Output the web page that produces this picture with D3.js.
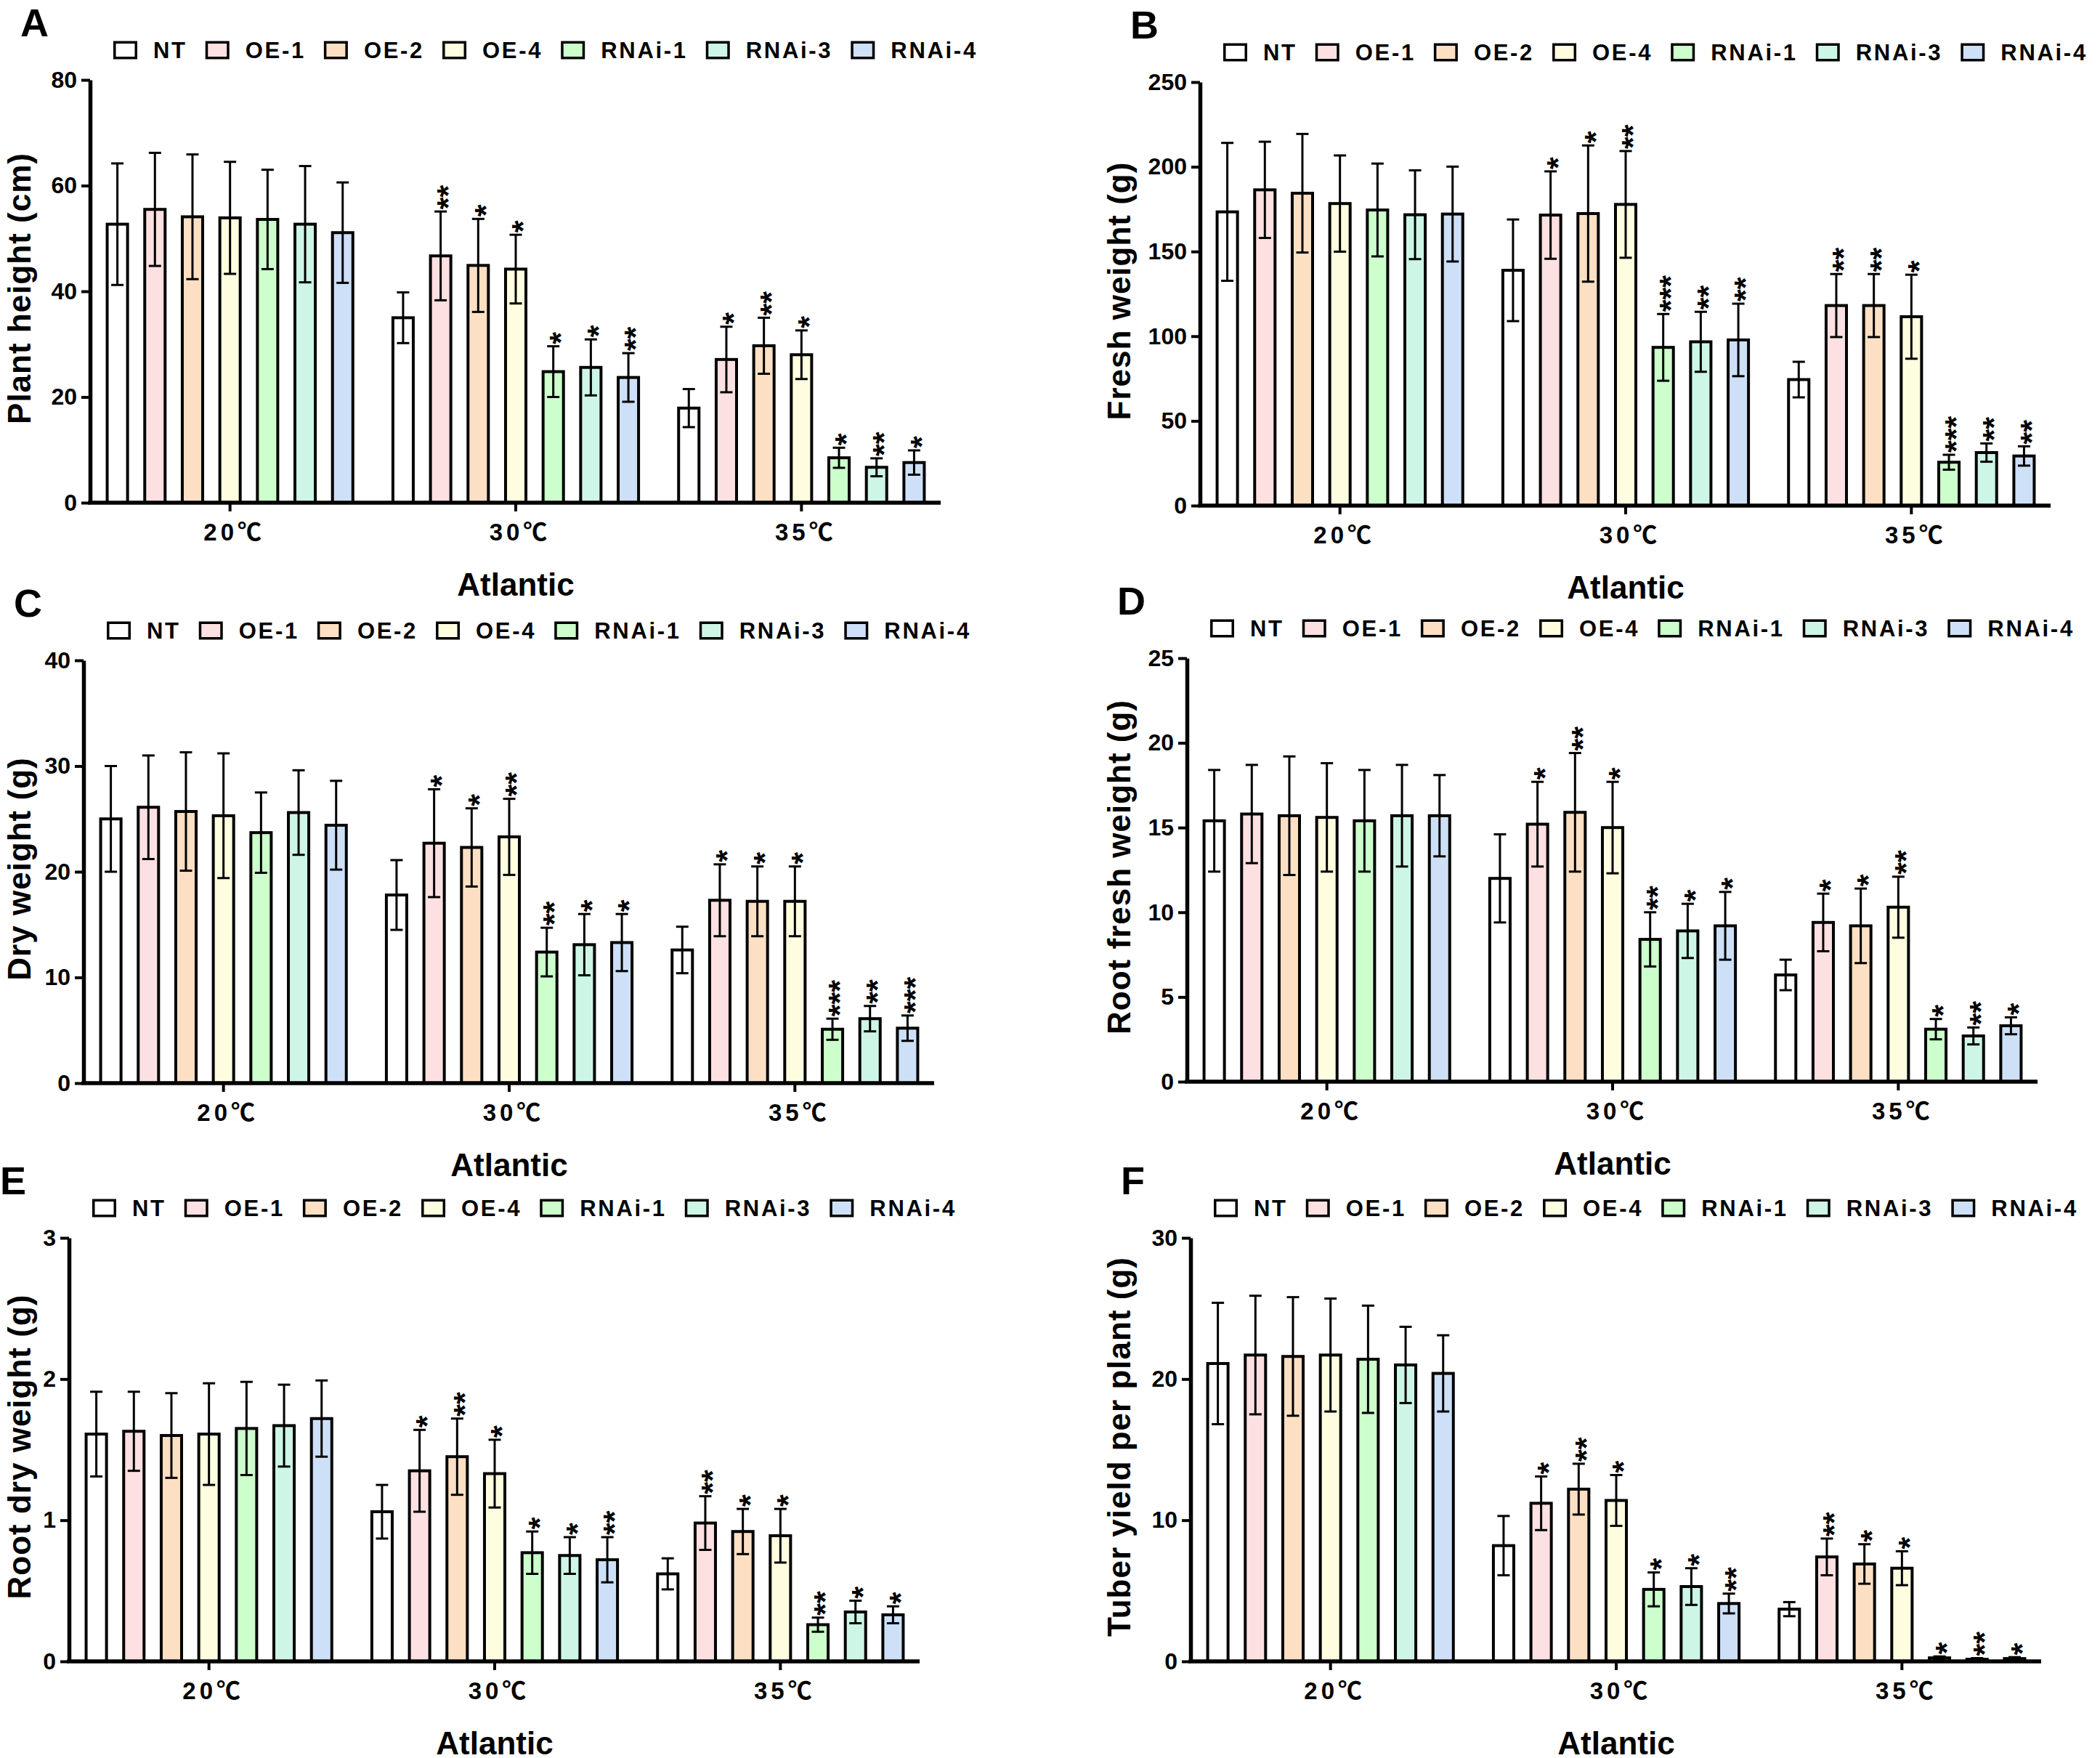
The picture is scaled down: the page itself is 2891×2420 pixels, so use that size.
<!DOCTYPE html>
<html>
<head>
<meta charset="utf-8">
<script src="https://cdn.jsdelivr.net/npm/d3@7"></script>
<style>
  body { margin: 0; background: #fff; }
  svg { display: block; font-family: "Liberation Sans", Arial, sans-serif; }
</style>
</head>
<body>
<svg id="fig" width="2891" height="2420"></svg>
<script>
// groups on the x axis and the seven lines
const categories = ["20℃", "30℃", "35℃"];
const series = ["NT", "OE-1", "OE-2", "OE-4", "RNAi-1", "RNAi-3", "RNAi-4"];
const seriesColors = ["#ffffff", "#fde0e1", "#fde0c4", "#fffde0", "#ccffcc", "#cdf6e6", "#cde0f7"];

// A - plant height (cm), rows = 20/30/35 ℃
const heightMean = [[52.7, 55.5, 54.1, 53.9, 53.6, 52.7, 51.1],
                    [35.0, 46.7, 44.9, 44.2, 24.8, 25.6, 23.7],
                    [17.9, 27.1, 29.7, 28.0, 8.5, 6.7, 7.6]];
const heightErr = [[11.5, 10.7, 11.8, 10.6, 9.4, 11.0, 9.5],
                   [4.8, 8.4, 8.8, 6.5, 4.8, 5.3, 4.6],
                   [3.6, 6.2, 5.3, 4.6, 1.9, 1.7, 2.3]];
const heightSig = [["", "", "", "", "", "", ""],
                   ["", "**", "*", "*", "*", "*", "**"],
                   ["", "*", "**", "*", "*", "**", "*"]];

// B - fresh weight (g)
const freshMean = [[173.4, 186.4, 184.4, 178.3, 174.5, 171.7, 172.1],
                   [138.9, 171.5, 172.4, 177.8, 93.4, 96.7, 97.8],
                   [74.4, 118.1, 118.1, 111.5, 25.6, 31.3, 29.3]];
const freshErr = [[40.7, 28.4, 35.0, 28.4, 27.4, 26.2, 28.0],
                  [30.0, 25.8, 40.2, 31.5, 19.7, 17.7, 21.4],
                  [10.5, 18.6, 18.6, 24.8, 4.4, 5.4, 5.7]];
const freshSig = [["", "", "", "", "", "", ""],
                  ["", "*", "*", "**", "***", "**", "**"],
                  ["", "**", "**", "*", "***", "**", "**"]];

// C - dry weight (g)
const dryMean = [[25.0, 26.1, 25.7, 25.3, 23.7, 25.6, 24.4],
                 [17.8, 22.7, 22.3, 23.3, 12.4, 13.1, 13.3],
                 [12.6, 17.3, 17.2, 17.2, 5.1, 6.1, 5.2]];
const dryErr = [[5.0, 4.9, 5.6, 5.9, 3.8, 4.0, 4.2],
                [3.3, 5.1, 3.7, 3.6, 2.3, 2.9, 2.7],
                [2.2, 3.4, 3.3, 3.3, 1.0, 1.2, 1.2]];
const drySig = [["", "", "", "", "", "", ""],
                ["", "*", "*", "**", "**", "*", "*"],
                ["", "*", "*", "*", "***", "**", "***"]];

// D - root fresh weight (g)
const rootFreshMean = [[15.4, 15.8, 15.7, 15.6, 15.4, 15.7, 15.7],
                       [12.0, 15.2, 15.9, 15.0, 8.4, 8.9, 9.2],
                       [6.3, 9.4, 9.2, 10.3, 3.1, 2.7, 3.3]];
const rootFreshErr = [[3.0, 2.9, 3.5, 3.2, 3.0, 3.0, 2.4],
                      [2.6, 2.5, 3.5, 2.7, 1.6, 1.6, 2.0],
                      [0.9, 1.7, 2.2, 1.8, 0.6, 0.5, 0.5]];
const rootFreshSig = [["", "", "", "", "", "", ""],
                      ["", "*", "**", "*", "**", "*", "*"],
                      ["", "*", "*", "**", "*", "**", "*"]];

// E - root dry weight (g)
const rootDryMean = [[1.61, 1.63, 1.60, 1.61, 1.65, 1.67, 1.72],
                     [1.06, 1.35, 1.45, 1.33, 0.77, 0.75, 0.72],
                     [0.62, 0.98, 0.92, 0.89, 0.26, 0.35, 0.33]];
const rootDryErr = [[0.30, 0.28, 0.30, 0.36, 0.33, 0.29, 0.27],
                    [0.19, 0.29, 0.27, 0.24, 0.15, 0.13, 0.16],
                    [0.11, 0.19, 0.16, 0.19, 0.05, 0.08, 0.06]];
const rootDrySig = [["", "", "", "", "", "", ""],
                    ["", "*", "**", "*", "*", "*", "**"],
                    ["", "**", "*", "*", "**", "*", "*"]];

// F - tuber yield per plant (g)
const tuberMean = [[21.1, 21.7, 21.6, 21.7, 21.4, 21.0, 20.4],
                   [8.2, 11.2, 12.2, 11.4, 5.1, 5.3, 4.1],
                   [3.7, 7.4, 6.9, 6.6, 0.25, 0.15, 0.2]];
const tuberErr = [[4.3, 4.2, 4.2, 4.0, 3.8, 2.7, 2.7],
                  [2.1, 1.9, 1.8, 1.8, 1.2, 1.3, 0.7],
                  [0.5, 1.3, 1.4, 1.2, 0.1, 0.08, 0.1]];
const tuberSig = [["", "", "", "", "", "", ""],
                  ["", "*", "**", "*", "*", "*", "**"],
                  ["", "**", "*", "*", "*", "**", "*"]];

/**
 * Panel placement on the page
 */
const panels = [
  {letter: "A", title: "Plant height (cm)", max: 80, step: 20, mean: heightMean, err: heightErr, sig: heightSig, ox: 0, ax: 124, top: 110, bottom: 692},
  {letter: "B", title: "Fresh weight (g)", max: 250, step: 50, mean: freshMean, err: freshErr, sig: freshSig, ox: 1514, ax: 1652, top: 113, bottom: 696},
  {letter: "C", title: "Dry weight (g)", max: 40, step: 10, mean: dryMean, err: dryErr, sig: drySig, ox: 0, ax: 115, top: 909, bottom: 1491},
  {letter: "D", title: "Root fresh weight (g)", max: 25, step: 5, mean: rootFreshMean, err: rootFreshErr, sig: rootFreshSig, ox: 1514, ax: 1634, top: 906, bottom: 1489},
  {letter: "E", title: "Root dry weight (g)", max: 3, step: 1, mean: rootDryMean, err: rootDryErr, sig: rootDrySig, ox: 0, ax: 95, top: 1704, bottom: 2287},
  {letter: "F", title: "Tuber yield per plant (g)", max: 30, step: 10, mean: tuberMean, err: tuberErr, sig: tuberSig, ox: 1514, ax: 1639, top: 1704, bottom: 2287}
];

const svg = d3.select("#fig");
const color = d3.scaleOrdinal().domain(series).range(seriesColors);

const drawPanel = (p) => {
  const g = svg.append("g");

  const y = d3.scaleLinear().domain([0, p.max]).range([p.bottom, p.top]);
  const x0 = d3.scaleBand().domain(categories)
    .range([p.ax - 4, p.ax + 1176])
    .paddingInner(0.13).paddingOuter(0.065);
  const x1 = d3.scaleBand().domain(series)
    .range([0, x0.bandwidth()])
    .paddingInner(0.38).paddingOuter(0);

  // flat rows for the marks
  const rows = [];
  categories.forEach((c, i) => series.forEach((s, j) => rows.push({
    c: c, s: s, v: p.mean[i][j], e: p.err[i][j], sig: p.sig[i][j]
  })));
  const cx = d => x0(d.c) + x1(d.s) + x1.bandwidth() / 2;

  // bars
  g.selectAll("rect.bar").data(rows).enter().append("rect")
    .attr("class", "bar")
    .attr("x", d => x0(d.c) + x1(d.s) + 2)
    .attr("width", x1.bandwidth() - 4)
    .attr("y", d => y(d.v))
    .attr("height", d => p.bottom - y(d.v))
    .attr("fill", d => color(d.s))
    .attr("stroke", "#000")
    .attr("stroke-width", 4);

  // error bars
  const eb = g.selectAll("g.err").data(rows).enter().append("g")
    .attr("class", "err")
    .attr("stroke", "#000")
    .attr("stroke-width", 3);
  eb.append("line")
    .attr("x1", cx).attr("x2", cx)
    .attr("y1", d => y(Math.max(0, d.v - d.e))).attr("y2", d => y(d.v + d.e));
  eb.append("line")
    .attr("x1", d => cx(d) - 8.5).attr("x2", d => cx(d) + 8.5)
    .attr("y1", d => y(d.v + d.e)).attr("y2", d => y(d.v + d.e));
  eb.append("line")
    .attr("x1", d => cx(d) - 8.5).attr("x2", d => cx(d) + 8.5)
    .attr("y1", d => y(Math.max(0, d.v - d.e))).attr("y2", d => y(Math.max(0, d.v - d.e)));

  // significance stars, written upward so they stack
  const starSize = 43;
  g.selectAll("text.sig").data(rows.filter(d => d.sig !== "")).enter().append("text")
    .attr("class", "sig")
    .attr("transform", d => `translate(${cx(d) + 0.565 * starSize},${y(d.v + d.e) - 3}) rotate(-90)`)
    .attr("font-size", starSize)
    .attr("font-weight", "bold")
    .text(d => d.sig);

  // y axis
  const yAxis = g.append("g")
    .attr("transform", `translate(${p.ax},0)`)
    .call(d3.axisLeft(y)
      .tickValues(d3.range(0, p.max + p.step / 2, p.step))
      .tickFormat(d3.format("~g"))
      .tickSize(12).tickSizeOuter(0).tickPadding(6));
  yAxis.attr("font-size", null).attr("font-family", null);
  yAxis.select(".domain").attr("stroke-width", 5.5).attr("stroke", "#000");
  yAxis.selectAll(".tick line").attr("stroke-width", 4);
  yAxis.selectAll(".tick text")
    .attr("font-size", 32).attr("font-weight", "bold").attr("fill", "#000");

  // x axis
  const xAxis = g.append("g")
    .attr("transform", `translate(0,${p.bottom})`)
    .call(d3.axisBottom(x0).tickSize(12).tickSizeOuter(0).tickPadding(17));
  xAxis.attr("font-size", null).attr("font-family", null);
  xAxis.select(".domain").remove();
  xAxis.selectAll(".tick line").attr("stroke-width", 4);
  xAxis.selectAll(".tick text")
    .attr("font-size", 33).attr("font-weight", "bold").attr("fill", "#000")
    .attr("dx", 6)
    .style("letter-spacing", "5px")
    .style("font-family", '"Liberation Sans", "Noto Sans CJK SC", sans-serif');
  g.append("line")
    .attr("x1", p.ax - 2.75).attr("x2", p.ax + 1171)
    .attr("y1", p.bottom).attr("y2", p.bottom)
    .attr("stroke", "#000").attr("stroke-width", 5.5);

  // axis titles
  g.append("text")
    .attr("transform", `translate(${p.ox + 42},${(p.top + p.bottom) / 2 - 4}) rotate(-90)`)
    .attr("text-anchor", "middle")
    .attr("font-size", 44).attr("font-weight", "bold")
    .style("letter-spacing", "1px")
    .text(p.title);
  g.append("text")
    .attr("x", x0("30℃") + x0.bandwidth() / 2)
    .attr("y", p.bottom + 128)
    .attr("text-anchor", "middle")
    .attr("font-size", 44).attr("font-weight", "bold")
    .text("Atlantic");

  // panel letter
  g.append("text")
    .attr("x", Math.max(p.ax - 96, 0))
    .attr("y", p.top - 60)
    .attr("font-size", 54).attr("font-weight", "bold")
    .text(p.letter);

  // legend, laid out left to right by text width
  const legend = g.append("g").attr("transform", `translate(${p.ax + 32},${p.top - 41})`);
  let cursor = 0;
  series.forEach(s => {
    legend.append("rect")
      .attr("x", cursor + 1.75).attr("y", -10.75)
      .attr("width", 29.5).attr("height", 21.5)
      .attr("fill", color(s)).attr("stroke", "#000").attr("stroke-width", 3.5);
    const t = legend.append("text")
      .attr("x", cursor + 55).attr("y", 11)
      .attr("font-size", 31).attr("font-weight", "bold")
      .style("letter-spacing", "2.7px")
      .text(s);
    cursor = cursor + 55 + t.node().getComputedTextLength() + 25;
  });
};

panels.forEach(drawPanel);
</script>
</body>
</html>
